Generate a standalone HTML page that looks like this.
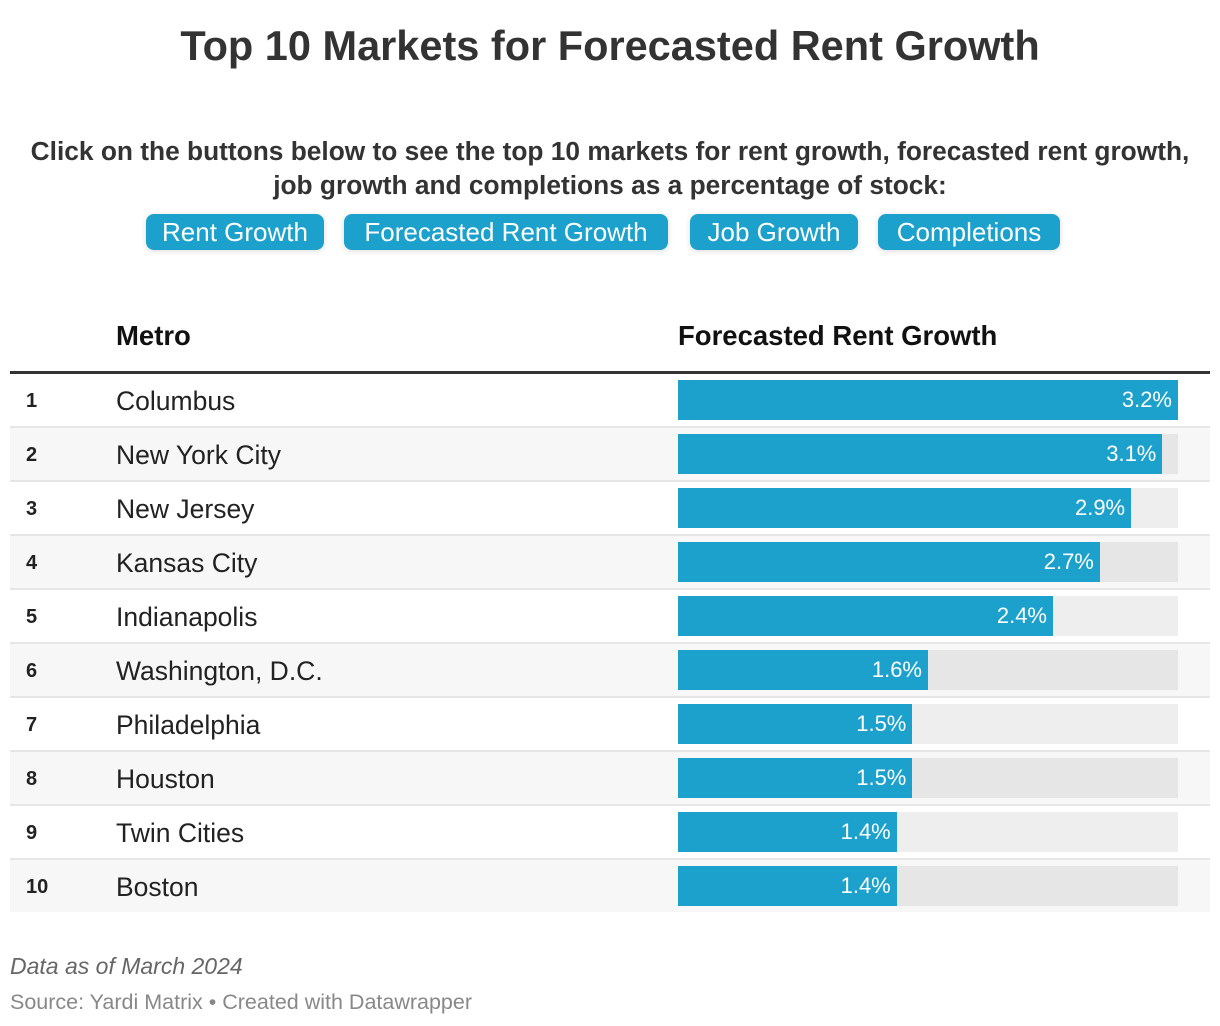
<!DOCTYPE html>
<html><head><meta charset="utf-8"><style>
body{margin:0;width:1220px;height:1026px;background:#fff;font-family:"Liberation Sans",sans-serif;color:#333;position:relative;overflow:hidden}
.abs{position:absolute}
h1{position:absolute;margin:0;top:22px;left:0;width:1220px;text-align:center;font-size:41.5px;font-weight:bold;color:#333}
.sub{top:134px;left:0;width:1220px;text-align:center;font-size:26.3px;font-weight:bold;line-height:34px;color:#333;white-space:nowrap}
.btn{top:214px;height:36px;background:#1ba1cc;color:#fff;border-radius:8px;font-size:26px;line-height:36px;text-align:center;box-shadow:0 1px 6px rgba(0,0,0,.15);white-space:nowrap}
.hdr{top:320px;font-size:27.5px;font-weight:bold;color:#111}
.row{left:10px;width:1200px;height:52px}
.rank{font-size:20px;font-weight:bold;color:#222;left:16px;line-height:54px}
.name{font-size:26.5px;color:#222;left:106px;line-height:54px}
.bg{height:40px}
.bar{height:40px;background:#1ba1cc;color:#fff;font-size:22px;line-height:40px;text-align:right;box-sizing:border-box;padding-right:6px}
</style></head><body>
<h1>Top 10 Markets for Forecasted Rent Growth</h1>
<div class="abs sub">Click on the buttons below to see the top 10 markets for rent growth, forecasted rent growth,<br>job growth and completions as a percentage of stock:</div>
<div class="abs btn" style="left:146px;width:178px">Rent Growth</div>
<div class="abs btn" style="left:344px;width:324px">Forecasted Rent Growth</div>
<div class="abs btn" style="left:690px;width:168px">Job Growth</div>
<div class="abs btn" style="left:878px;width:182px">Completions</div>
<div class="abs hdr" style="left:116px">Metro</div>
<div class="abs hdr" style="left:678px">Forecasted Rent Growth</div>
<div class="abs" style="left:10px;top:371px;width:1200px;height:3px;background:#333"></div>
<div id="rows"></div>
<div class="abs" style="left:10px;top:953px;font-size:23px;font-style:italic;color:#666">Data as of March 2024</div>
<div class="abs" style="left:10px;top:990px;font-size:21.5px;color:#888">Source: Yardi Matrix • Created with Datawrapper</div>
<script>
const metros=["Columbus","New York City","New Jersey","Kansas City","Indianapolis","Washington, D.C.","Philadelphia","Houston","Twin Cities","Boston"];
const values=[3.2,3.1,2.9,2.7,2.4,1.6,1.5,1.5,1.4,1.4];
const maxV=3.2,barX=678,barW=500,top0=374,rowH=54;
const x=v=>v/maxV*barW;
const root=document.getElementById('rows');
metros.forEach((m,i)=>{
  const y=top0+i*rowH;
  const r=document.createElement('div');
  r.className='abs row';r.style.top=y+'px';r.style.background=i%2?'#f7f7f7':'#fff';
  
  
  const rk=document.createElement('div');rk.className='abs rank';rk.textContent=i+1;
  
  
  const nm=document.createElement('div');nm.className='abs name';nm.textContent=m;
  
  
  r.appendChild(rk);r.appendChild(nm);root.appendChild(r);
  if(i<metros.length-1){const b=document.createElement('div');b.className='abs';b.style.cssText='left:10px;width:1200px;height:2px;background:#e6e6e6;top:'+(y+52)+'px';
  
  
  root.appendChild(b);}
  const bg=document.createElement('div');bg.className='abs bg';bg.style.cssText+='left:'+barX+'px;width:'+barW+'px;top:'+(y+6)+'px;background:'+(i%2?'#e6e6e6':'#eeeeee');
  
  
  root.appendChild(bg);
  const bar=document.createElement('div');bar.className='abs bar';bar.style.left=barX+'px';bar.style.top=(y+6)+'px';bar.style.width=x(values[i])+'px';
  bar.textContent=values[i].toFixed(1)+'%';
  
  
  root.appendChild(bar);
});
</script>
</body></html>
